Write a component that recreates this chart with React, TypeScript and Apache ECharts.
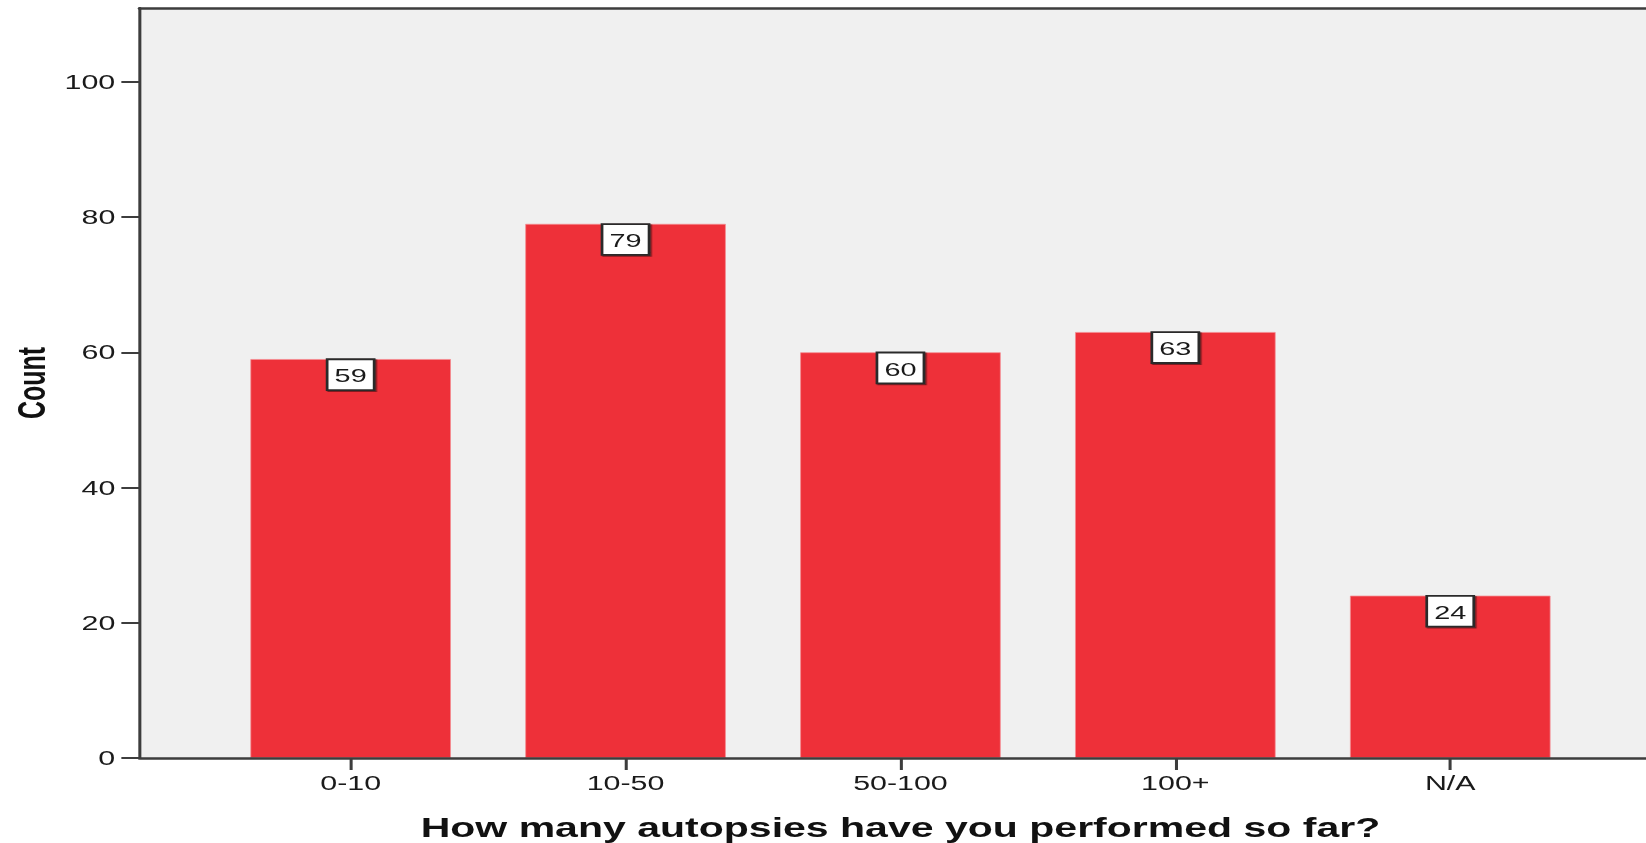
import React, { useEffect, useRef } from "react";
import * as echarts from "echarts";

const categories = ["0-10", "10-50", "50-100", "100+", "N/A"];
const counts = [59, 79, 60, 63, 24];
const yTicks = [0, 20, 40, 60, 80, 100];
const xTitle = "How many autopsies have you performed so far?";
const yTitle = "Count";

const STRETCH = 1.52;
const FULL_W = 1646;
const H = 843;
const W = Math.round(FULL_W / STRETCH);

const FONT = "'Liberation Sans', Arial, sans-serif";
const LINE = "#3d3d3d";
const TEXT = "#1a1a1a";

export default function App() {
  const ref = useRef<HTMLDivElement>(null);

  useEffect(() => {
    document.body.style.margin = "0";
    const el = ref.current;
    if (!el) return;
    const chart = echarts.init(el, null, { renderer: "svg", width: W, height: H });

    const axisX = 139.6 / STRETCH;
    const catLeft = 213.2 / STRETCH;
    const catRight = W - 1587.7 / STRETCH;
    const top = 8;
    const bottom = H - 758;
    const top100 = 82;

    chart.setOption({
      animation: false,
      backgroundColor: "#ffffff",
      grid: [
        {
          left: axisX,
          top,
          bottom,
          right: 0,
          show: true,
          backgroundColor: "#f0f0f0",
          borderWidth: 0,
          containLabel: false,
          outerBoundsMode: "none",
        },
        {
          left: catLeft,
          right: catRight,
          top: top100,
          bottom,
          containLabel: false,
          outerBoundsMode: "none",
        },
        {
          left: axisX,
          top: top100,
          bottom,
          width: 10,
          containLabel: false,
          outerBoundsMode: "none",
        },
      ],
      xAxis: [
        {
          gridIndex: 0,
          type: "category",
          data: ["a"],
          z: 5,
          axisLine: { show: true, lineStyle: { color: LINE, width: 2.5 } },
          axisTick: { show: false },
          axisLabel: { show: false },
          splitLine: { show: false },
        },
        {
          gridIndex: 1,
          type: "category",
          data: categories,
          axisLine: { show: false },
          axisTick: {
            show: true,
            alignWithLabel: true,
            length: 12,
            lineStyle: { color: LINE, width: 2 },
          },
          axisLabel: {
            margin: 15,
            fontSize: 20,
            fontFamily: FONT,
            color: TEXT,
          },
          name: xTitle,
          nameLocation: "middle",
          nameGap: 56,
          nameTextStyle: {
            fontSize: 27,
            fontWeight: "bold",
            fontFamily: FONT,
            color: "#111111",
          },
        },
        {
          gridIndex: 2,
          type: "category",
          data: ["a"],
          show: false,
        },
        {
          gridIndex: 0,
          type: "category",
          data: ["a"],
          position: "top",
          z: 5,
          axisLine: { show: true, lineStyle: { color: LINE, width: 2.5 } },
          axisTick: { show: false },
          axisLabel: { show: false },
          splitLine: { show: false },
        },
      ],
      yAxis: [
        {
          gridIndex: 0,
          type: "value",
          min: 0,
          max: 1,
          z: 5,
          axisLine: { show: true, lineStyle: { color: LINE, width: 2 } },
          axisTick: { show: false },
          axisLabel: { show: false },
          splitLine: { show: false },
          name: yTitle,
          nameLocation: "middle",
          nameGap: 58,
          nameTextStyle: {
            fontSize: 25,
            fontWeight: "bold",
            fontFamily: FONT,
            color: "#111111",
          },
        },
        {
          gridIndex: 1,
          type: "value",
          min: yTicks[0],
          max: yTicks[yTicks.length - 1],
          show: false,
        },
        {
          gridIndex: 2,
          type: "value",
          min: yTicks[0],
          max: yTicks[yTicks.length - 1],
          interval: yTicks[1] - yTicks[0],
          z: 5,
          axisLine: { show: false },
          axisTick: { show: true, length: 12, lineStyle: { color: LINE, width: 2 } },
          axisLabel: {
            margin: 16,
            fontSize: 20,
            fontFamily: FONT,
            color: TEXT,
          },
          splitLine: { show: false },
        },
      ],
      series: [
        {
          type: "bar",
          xAxisIndex: 1,
          yAxisIndex: 1,
          data: counts,
          barWidth: 132,
          itemStyle: { color: "#ee3039", borderColor: "#f48a8f", borderWidth: 0.6 },
          label: {
            show: true,
            position: "insideTop",
            distance: 1,
            fontSize: 19,
            fontFamily: FONT,
            color: "#1a1a1a",
            backgroundColor: "#ffffff",
            borderColor: "#2a2a2a",
            borderWidth: 1.8,
            padding: [6, 4, 4, 4],
            lineHeight: 19,
            shadowColor: "rgba(0,0,0,0.45)",
            shadowOffsetX: 1,
            shadowOffsetY: 1,
            shadowBlur: 0,
          },
        },
      ],
    });

    return () => {
      chart.dispose();
    };
  }, []);

  return (
    <div style={{ width: FULL_W, height: H, overflow: "hidden", position: "relative" }}>
      <div
        ref={ref}
        style={{
          width: W,
          height: H,
          transform: `scaleX(${STRETCH})`,
          transformOrigin: "0 0",
        }}
      />
    </div>
  );
}
